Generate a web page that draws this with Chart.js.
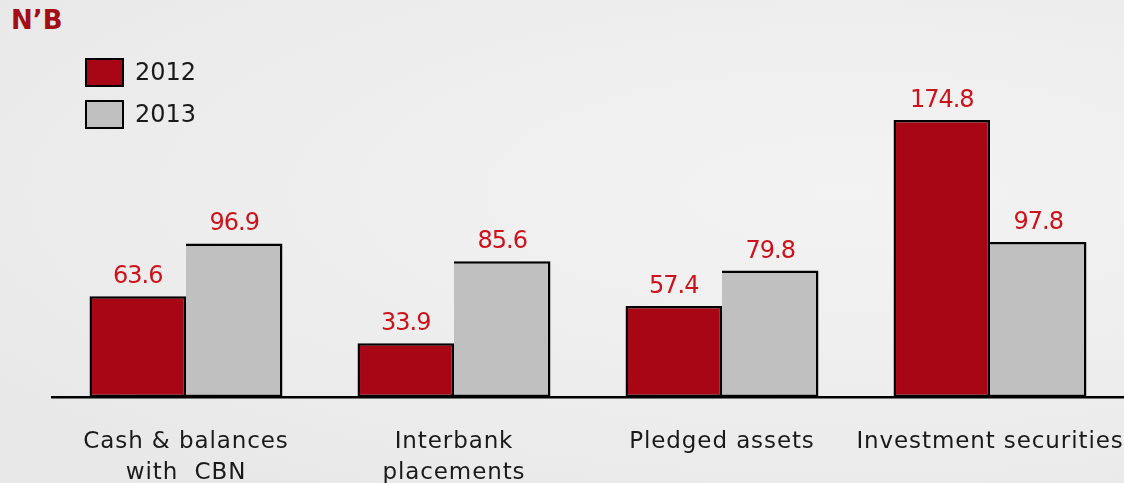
<!DOCTYPE html>
<html>
<head>
<meta charset="utf-8">
<script src="https://cdn.jsdelivr.net/npm/chart.js@4"></script>
<style>
  html, body { margin: 0; padding: 0; }
  body { width: 1124px; height: 483px; overflow: hidden;
    background: radial-gradient(ellipse at 75% 40%, #f3f3f3 0%, #ebebeb 70%, #e6e6e6 100%); position: relative; }
  #title { position: absolute; left: 11px; top: 5px; font: bold 26px "DejaVu Sans", sans-serif; color: #a50d14; }
  #wrap { position: absolute; left: 0; top: 0; width: 1124px; height: 483px; }
</style>
</head>
<body>
<div id="title">N’B</div>
<div id="wrap"><canvas id="c" width="1124" height="483"></canvas></div>
<script>
const categories = [["Cash & balances", "with  CBN"], ["Interbank", "placements"], "Pledged assets", "Investment securities"];
const seriesNames = ["2012", "2013"];
const values2012 = [63.6, 33.9, 57.4, 174.8];
const values2013 = [96.9, 85.6, 79.8, 97.8];
const yMin = 0;
const yMax = 200;

const FONT = '"DejaVu Sans", sans-serif';

const labelPlugin = {
  id: 'valueLabels',
  afterDatasetsDraw(chart) {
    const ctx = chart.ctx;
    ctx.save();
    ctx.font = '24px ' + FONT;
    if ('letterSpacing' in ctx) ctx.letterSpacing = '-1px';
    ctx.fillStyle = '#cc131c';
    ctx.textAlign = 'center';
    ctx.textBaseline = 'alphabetic';
    chart.data.datasets.forEach((ds, di) => {
      const meta = chart.getDatasetMeta(di);
      meta.data.forEach((bar, i) => {
        ctx.fillText(ds.data[i].toFixed(1), bar.x, bar.y - 13);
      });
    });
    ctx.restore();
  }
};

const xLabelPlugin = {
  id: 'xLabels',
  afterDraw(chart) {
    const ctx = chart.ctx;
    const xs = chart.scales.x;
    ctx.save();
    ctx.font = '23px ' + FONT;
    if ('letterSpacing' in ctx) ctx.letterSpacing = '0.9px';
    ctx.fillStyle = '#1a1a1a';
    ctx.textAlign = 'center';
    ctx.textBaseline = 'alphabetic';
    chart.data.labels.forEach((lab, i) => {
      const lines = Array.isArray(lab) ? lab : [lab];
      const x = xs.getPixelForValue(i);
      lines.forEach((t, j) => {
        ctx.fillText(t, x, chart.chartArea.bottom + 51 + j * 31);
      });
    });
    ctx.restore();
  }
};

const legendPlugin = {
  id: 'customLegend',
  afterDraw(chart) {
    const ctx = chart.ctx;
    ctx.save();
    chart.data.datasets.forEach((ds, i) => {
      const x = 86, y = 59 + i * 42;
      ctx.fillStyle = ds.backgroundColor;
      ctx.fillRect(x, y, 37, 27);
      ctx.lineWidth = 2;
      ctx.strokeStyle = '#000';
      ctx.strokeRect(x, y, 37, 27);
      ctx.fillStyle = '#1a1a1a';
      ctx.font = '24px ' + FONT;
      ctx.textBaseline = 'middle';
      ctx.textAlign = 'left';
      ctx.fillText(ds.label, x + 49, y + 15);
    });
    ctx.restore();
  }
};

new Chart(document.getElementById('c'), {
  type: 'bar',
  data: {
    labels: categories,
    datasets: [
      { label: seriesNames[0], data: values2012, backgroundColor: '#a80515', borderColor: '#000', borderWidth: 2.5, borderSkipped: false },
      { label: seriesNames[1], data: values2013, backgroundColor: '#c0c0c0', borderColor: '#000', borderWidth: { top: 2.5, right: 2.5, bottom: 2.5, left: 0 }, borderSkipped: false }
    ]
  },
  options: {
    responsive: false,
    animation: false,
    layout: { padding: { left: 52, right: 0, top: 80, bottom: 0 } },
    plugins: { legend: { display: false }, title: { display: false }, tooltip: { enabled: false } },
    datasets: { bar: { categoryPercentage: 0.72, barPercentage: 1.0 } },
    scales: {
      x: {
        afterFit(scale) { scale.height = 86; },
        grid: { display: false, drawTicks: false },
        border: { display: true, color: '#000', width: 2.5 },
        ticks: { display: false }
      },
      y: {
        display: false,
        min: yMin,
        max: yMax
      }
    }
  },
  plugins: [labelPlugin, xLabelPlugin, legendPlugin]
});
</script>
</body>
</html>
